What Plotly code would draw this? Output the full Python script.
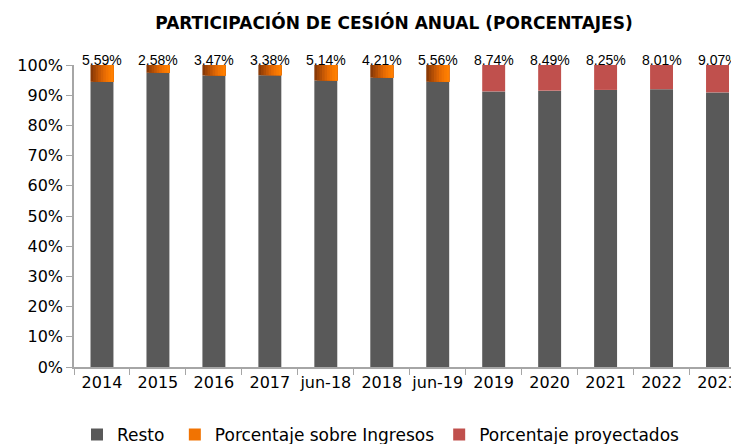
import plotly.graph_objects as go

categories = ["2014", "2015", "2016", "2017", "jun-18", "2018", "jun-19",
              "2019", "2020", "2021", "2022", "2023"]
porcentaje = [5.59, 2.58, 3.47, 3.38, 5.14, 4.21, 5.56, 8.74, 8.49, 8.25, 8.01, 9.07]
proyectado = [False, False, False, False, False, False, False, True, True, True, True, True]
labels = [f"{v:.2f}%" for v in porcentaje]

resto = [round(100 - v, 2) for v in porcentaje]
ingresos = [None if p else v for v, p in zip(porcentaje, proyectado)]
proyectados = [v if p else None for v, p in zip(porcentaje, proyectado)]

FONT = "DejaVu Sans, sans-serif"
LFONT = "Liberation Sans, Arial, sans-serif"
BARW = 0.41

fig = go.Figure()
fig.add_trace(go.Bar(x=categories, y=resto, name="Resto\u00a0", width=BARW,
                     marker=dict(color="#595959", line=dict(width=0))))

# orange bars drawn as overlapping slices to imitate the left-to-right gradient
grad = ["#8A3A06", "#9E4406", "#B24E05", "#C55805", "#D76204", "#E66B03",
        "#F17302", "#F97A01", "#FF7F00"]
n = len(grad)
for k, col in enumerate(grad):
    fig.add_trace(go.Bar(x=categories, y=ingresos, base=resto,
                         width=BARW - k * BARW / n, offset=-BARW / 2 + k * BARW / n,
                         name="Porcentaje sobre Ingresos", legendgroup="ing",
                         showlegend=(k == n - 3),
                         marker=dict(color=col, line=dict(width=0))))

fig.add_trace(go.Bar(x=categories, y=proyectados, base=resto, width=BARW,
                     name="Porcentaje proyectados",
                     marker=dict(color="#C0504D", line=dict(width=0))))

for i, lab in enumerate(labels):
    fig.add_annotation(x=i, y=100, text=lab, showarrow=False, yanchor="bottom",
                       yshift=-5, font=dict(family=LFONT, size=14, color="#000000"))

fig.update_layout(
    width=731, height=436,
    barmode="overlay",
    plot_bgcolor="white", paper_bgcolor="white",
    margin=dict(l=65.5, r=0, t=57, b=77, autoexpand=False),
    font=dict(family=FONT, size=16, color="#000000"),
    title=dict(text="<b>PARTICIPACIÓN DE CESIÓN ANUAL (PORCENTAJES)</b>",
               x=386 / 731, xref="container", xanchor="center", y=1 - 15 / 436,
               yref="container", yanchor="middle", automargin=False,
               font=dict(family=FONT, size=17, color="#000000")),
    legend=dict(orientation="h", x=0.0045, xanchor="left", y=-0.225, yanchor="middle",
                font=dict(family=FONT, size=17), traceorder="normal"),
    showlegend=True,
)
fig.update_yaxes(range=[0, 100], dtick=10, ticksuffix="%", showgrid=False,
                 showline=True, linecolor="#A6A6A6", linewidth=1.5,
                 ticks="outside", ticklen=6, tickcolor="#A6A6A6", zeroline=False,
                 automargin=False)
fig.update_xaxes(type="category", range=[-0.5, 11.384], showgrid=False,
                 showline=True, linecolor="#A6A6A6",
                 linewidth=1.5, ticks="outside", ticklen=6, tickcolor="#A6A6A6",
                 tickson="boundaries", tickangle=0, automargin=False)

fig.write_html("out.html")
